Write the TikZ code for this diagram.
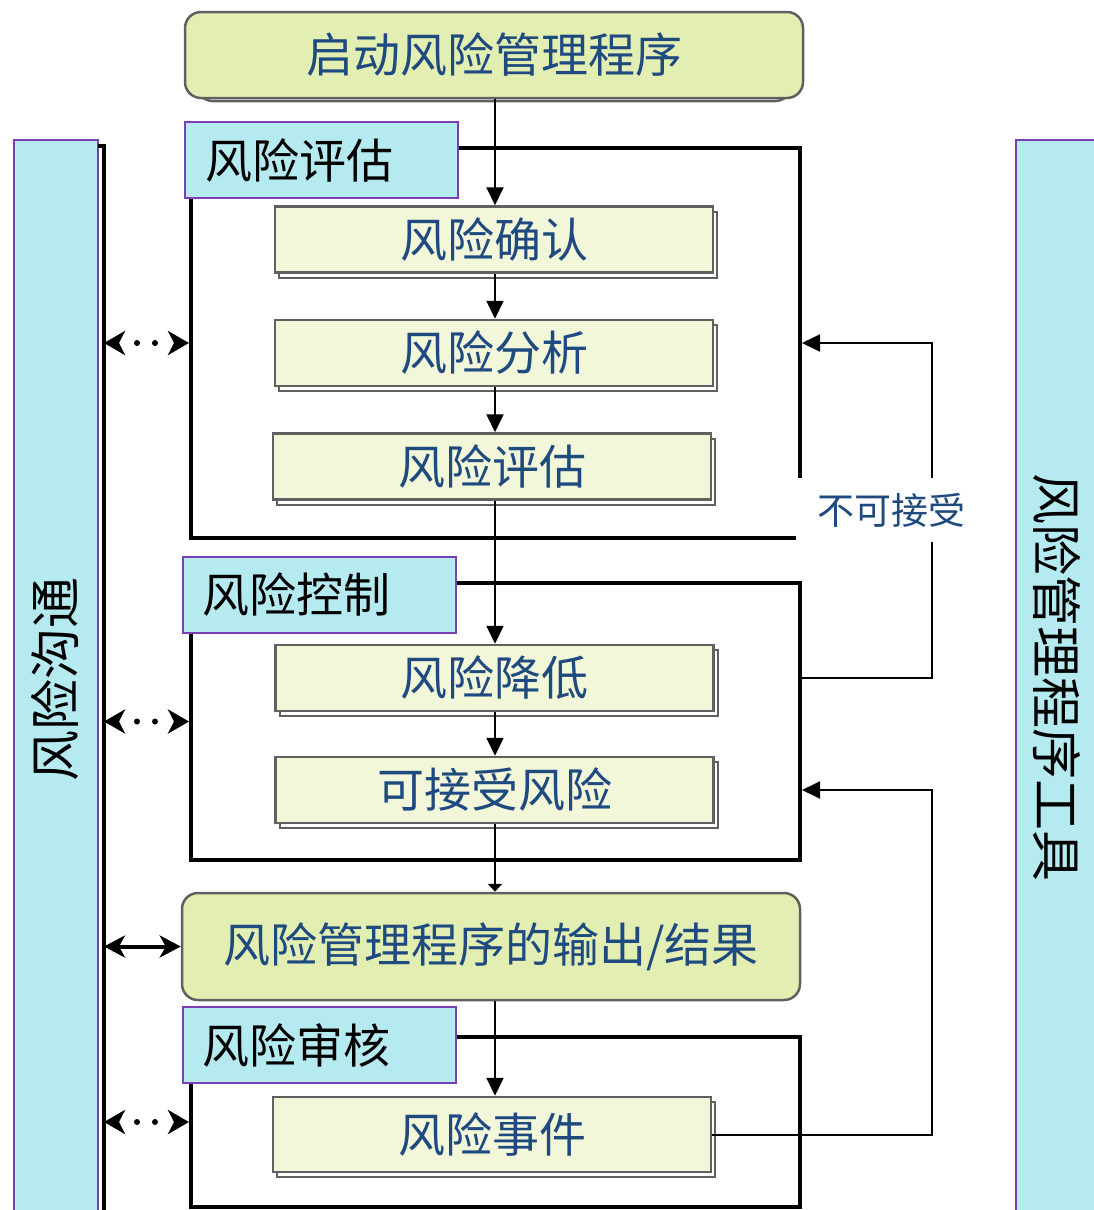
\documentclass[tikz,border=0pt]{standalone}
\usepackage{fontspec}
\newfontfamily\cjk{Noto Sans CJK SC}
\usetikzlibrary{arrows.meta,shadows}

\definecolor{startfill}{HTML}{E3EFB2}
\definecolor{stepfill}{HTML}{F2F7D9}
\definecolor{barfill}{HTML}{B4EAF0}
\definecolor{barline}{HTML}{7B3FB5}
\definecolor{boxline}{HTML}{606060}
\definecolor{textblue}{HTML}{1F4A80}

\tikzset{
  bigtext/.style={font=\cjk\fontsize{47}{52}\selectfont},
  sidetext/.style={font=\cjk\fontsize{51}{56}\selectfont},
  roundbox/.style={bigtext, draw=boxline, line width=2.5pt, fill=startfill,
    rounded corners=16pt, text=textblue, minimum width=618pt},
  startbox/.style={roundbox,
    general shadow={draw=boxline, fill=white, line width=2.5pt, shadow yshift=-5pt, shadow scale=0.96}},
  stepbox/.style={bigtext, draw=boxline, line width=2.5pt, fill=stepfill,
    text=textblue, minimum width=438pt, minimum height=66pt,
    general shadow={draw=boxline, fill=white, line width=2pt, shadow xshift=4pt, shadow yshift=-5pt}},
  phaselabel/.style={bigtext, draw=barline, line width=2pt, fill=barfill,
    text width=233pt, inner xsep=20pt, align=left, minimum height=76pt},
  framebox/.style={draw=black, line width=4pt},
  sidebar/.style={draw=barline, line width=2pt, fill=barfill},
  flow/.style={draw=black, line width=2pt, -{Triangle[length=18pt,width=17pt]}},
  commarrow/.style={line width=4pt, {Stealth[length=21pt,width=22pt,inset=6pt]}-{Stealth[length=21pt,width=22pt,inset=6pt]}},
  commdots/.style={draw=white, {Stealth[length=21pt,width=24pt,inset=6pt,color=black]}-{Stealth[length=21pt,width=24pt,inset=6pt,color=black]},
    line width=4pt,
    postaction={draw=black, -, line width=6pt, line cap=round, dash pattern=on 0pt off 18pt,
      shorten <=33pt, shorten >=33pt}},
}

\begin{document}
\begin{tikzpicture}[x=1pt, y=-1pt]
    \clip (0,0) rectangle (1094,1210);

    % 两侧的竖条
    \draw[sidebar] (14,140) rectangle (98,1230);
    \draw[sidebar] (1016,140) rectangle (1110,1230);
    \node[sidetext, rotate=90] (comm) at (55,679) {风险沟通};
    \node[sidetext, rotate=-90] (tools) at (1057,677) {风险管理程序工具};
    \draw[line width=4pt] (98,146) -- (104,146) -- (104,1230);
    \coordinate (commx) at (104,0);
    \coordinate (fbx) at (932,0);

    % 三个阶段的框
    \node[framebox, minimum width=609pt, minimum height=390pt] (assess) at (495.5,343) {};
    \node[framebox, minimum width=609pt, minimum height=277pt] (control) at (495.5,721.5) {};
    \node[framebox, minimum width=609pt, minimum height=170pt] (review) at (495.5,1122) {};

    % 流程中的节点
    \node[startbox, minimum height=86pt] (start) at (494,55) {启动风险管理程序};
    \node[stepbox] (identify) at (494,239.5) {风险确认};
    \node[stepbox] (analyse) at (494,353) {风险分析};
    \node[stepbox] (evaluate) at (492,466.5) {风险评估};
    \node[stepbox] (reduce) at (494.5,678) {风险降低};
    \node[stepbox] (accept) at (494.5,790) {可接受风险};
    \node[roundbox, minimum height=107pt] (output) at (491,946.5) {风险管理程序的输出/结果};
    \node[stepbox, minimum height=75pt] (event) at (492,1134.5) {风险事件};

    % 阶段标签
    \node[phaselabel] (assesslabel) at (321.5,160) {风险评估};
    \node[phaselabel] (controllabel) at (319,594.5) {风险控制};
    \node[phaselabel] (reviewlabel) at (319,1045) {风险审核};

    % 主流程箭头
    \draw[flow] (start.south -| 495,0) -- (identify.north -| 495,0);
    \draw[flow] (identify.south -| 495,0) -- (analyse.north -| 495,0);
    \draw[flow] (analyse.south -| 495,0) -- (evaluate.north -| 495,0);
    \draw[flow] (evaluate.south -| 495,0) -- (reduce.north -| 495,0);
    \draw[flow] (reduce.south -| 495,0) -- (accept.north -| 495,0);
    \draw[flow, -{Triangle[length=8pt,width=14pt]}] (accept.south -| 495,0) -- (output.north -| 495,0);
    \draw[flow] (output.south -| 495,0) -- (event.north -| 495,0);

    % 反馈回路
    \draw[flow] (reduce -| control.east) -- (reduce -| fbx) |- (assess.east);
    \draw[flow] (event.east) -- (event -| fbx) |- (accept -| control.east);
    \node[font=\cjk\fontsize{37}{40}\selectfont, text=textblue, fill=white,
      minimum width=190pt, minimum height=64pt] (reject) at (891,510) {不可接受};

    % 与风险沟通之间的双向箭头
    \draw[commdots] (assess.west -| commx) -- (assess.west);
    \draw[commdots] (control.west -| commx) -- (control.west);
    \draw[commdots] (review.west -| commx) -- (review.west);
    \draw[commarrow] (output.west -| commx) -- (output.west);
\end{tikzpicture}
\end{document}
